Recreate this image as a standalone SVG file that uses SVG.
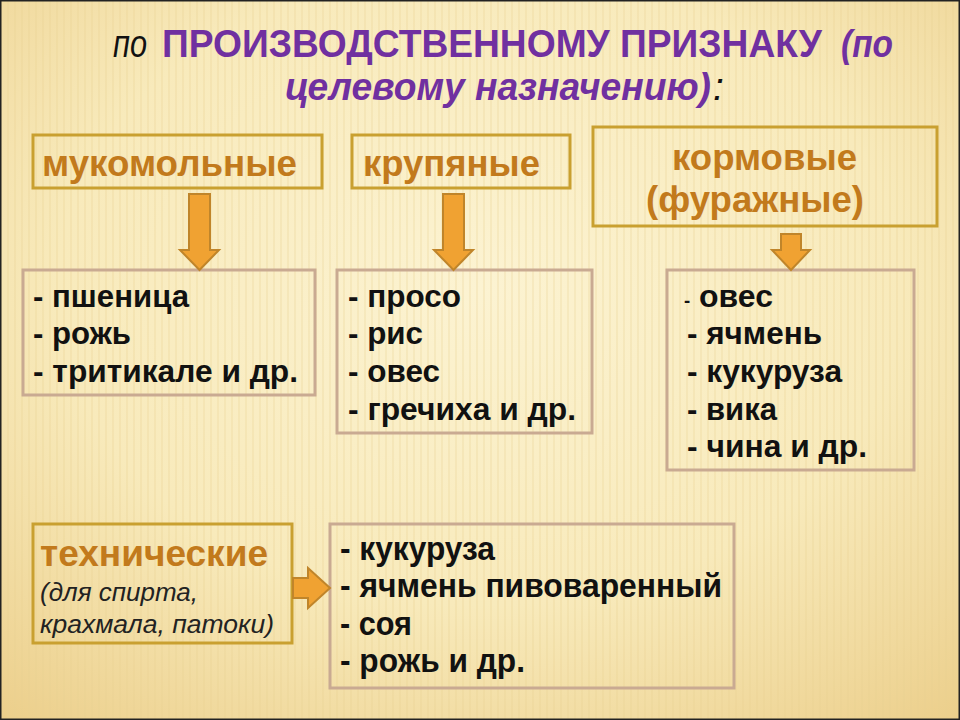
<svg xmlns="http://www.w3.org/2000/svg" width="960" height="720" viewBox="0 0 960 720">
<defs>
<radialGradient id="bg" cx="0.5" cy="0.4" r="0.8">
<stop offset="0" stop-color="#fcf3d2"/>
<stop offset="0.55" stop-color="#f8eabb"/>
<stop offset="1" stop-color="#ebcd88"/>
</radialGradient>
<pattern id="stripes" width="7" height="720" patternUnits="userSpaceOnUse">
<rect x="0" y="0" width="2" height="720" fill="#e6cf8e" opacity="0.25"/>
</pattern>
<style>
.cat{fill:none;stroke:#c9a030;stroke-width:3}
.lst{fill:none;stroke:#c9aa92;stroke-width:3}
.ct{font-family:"Liberation Sans",Arial,sans-serif;font-weight:bold;fill:#c27a1c;font-size:36px}
.li{font-family:"Liberation Sans",Arial,sans-serif;font-weight:bold;fill:#111;font-size:31px}
.ln{font-family:"Liberation Sans",Arial,sans-serif;font-weight:bold;fill:#111;font-size:33px}
.it{font-family:"Liberation Sans",Arial,sans-serif;font-style:italic;fill:#222;font-size:26px}
.arr{fill:#f0a232;stroke:#c0852a;stroke-width:2;stroke-linejoin:miter}
.ttl{font-family:"Liberation Sans",Arial,sans-serif;font-size:39px}
</style>
</defs>
<rect width="960" height="720" fill="url(#bg)"/>
<rect width="960" height="720" fill="url(#stripes)"/>
<rect x="0.5" y="0.5" width="959" height="719" fill="none" stroke="#222" stroke-width="2"/>

<g id="title">
<text class="ttl" y="57"><tspan x="113" font-style="italic" fill="#111" textLength="34" lengthAdjust="spacingAndGlyphs">по</tspan><tspan x="162" font-weight="bold" fill="#7030a0" textLength="660" lengthAdjust="spacingAndGlyphs">ПРОИЗВОДСТВЕННОМУ ПРИЗНАКУ</tspan><tspan x="841" font-weight="bold" font-style="italic" fill="#7030a0" textLength="52" lengthAdjust="spacingAndGlyphs">(по</tspan></text>
<text class="ttl" y="100"><tspan x="285" font-weight="bold" font-style="italic" fill="#7030a0" textLength="426" lengthAdjust="spacingAndGlyphs">целевому назначению)</tspan><tspan x="713" font-style="italic" fill="#111">:</tspan></text>
</g>

<g id="flour">
<rect class="cat" x="33" y="135" width="289" height="53"/>
<text class="ct" x="42" y="176" textLength="255" lengthAdjust="spacingAndGlyphs">мукомольные</text>
</g>
<g id="groats">
<rect class="cat" x="352" y="135" width="218" height="53"/>
<text class="ct" x="363" y="176" textLength="177" lengthAdjust="spacingAndGlyphs">крупяные</text>
</g>
<g id="feed">
<rect class="cat" x="593" y="127" width="344" height="99"/>
<text class="ct" x="672" y="170" textLength="185" lengthAdjust="spacingAndGlyphs">кормовые</text>
<text class="ct" x="646" y="212" textLength="218" lengthAdjust="spacingAndGlyphs">(фуражные)</text>
</g>
<g id="technical">
<rect class="cat" x="33" y="524" width="259" height="119"/>
<text class="ct" x="40" y="566" font-size="36" textLength="228" lengthAdjust="spacingAndGlyphs">технические</text>
<text class="it" x="40" y="601" textLength="158" lengthAdjust="spacingAndGlyphs">(для спирта,</text>
<text class="it" x="40" y="633" textLength="234" lengthAdjust="spacingAndGlyphs">крахмала, патоки)</text>
</g>

<g id="flour-list">
<rect class="lst" x="23" y="270" width="292" height="125"/>
<text class="li" x="33" y="307" textLength="156" lengthAdjust="spacingAndGlyphs">- пшеница</text>
<text class="li" x="33" y="344" textLength="98" lengthAdjust="spacingAndGlyphs">- рожь</text>
<text class="li" x="33" y="382" textLength="265" lengthAdjust="spacingAndGlyphs">- тритикале и др.</text>
</g>
<g id="groats-list">
<rect class="lst" x="337" y="270" width="255" height="163"/>
<text class="li" x="348" y="307" textLength="113" lengthAdjust="spacingAndGlyphs">- просо</text>
<text class="li" x="348" y="344" textLength="75" lengthAdjust="spacingAndGlyphs">- рис</text>
<text class="li" x="348" y="382" textLength="92" lengthAdjust="spacingAndGlyphs">- овес</text>
<text class="li" x="348" y="420" textLength="228" lengthAdjust="spacingAndGlyphs">- гречиха и др.</text>
</g>
<g id="feed-list">
<rect class="lst" x="667" y="270" width="247" height="200"/>
<text class="li" x="684" y="307" textLength="89" lengthAdjust="spacingAndGlyphs"><tspan font-size="18">-</tspan> овес</text>
<text class="li" x="687" y="344" textLength="135" lengthAdjust="spacingAndGlyphs">- ячмень</text>
<text class="li" x="687" y="382" textLength="155" lengthAdjust="spacingAndGlyphs">- кукуруза</text>
<text class="li" x="687" y="420" textLength="90" lengthAdjust="spacingAndGlyphs">- вика</text>
<text class="li" x="687" y="457" textLength="180" lengthAdjust="spacingAndGlyphs">- чина и др.</text>
</g>
<g id="technical-list">
<rect class="lst" x="330" y="524" width="404" height="164"/>
<text class="ln" x="340" y="560" textLength="155" lengthAdjust="spacingAndGlyphs">- кукуруза</text>
<text class="ln" x="340" y="597" textLength="382" lengthAdjust="spacingAndGlyphs">- ячмень пивоваренный</text>
<text class="ln" x="340" y="635" textLength="72" lengthAdjust="spacingAndGlyphs">- соя</text>
<text class="ln" x="340" y="672" textLength="185" lengthAdjust="spacingAndGlyphs">- рожь и др.</text>
</g>

<g id="connectors">
<path class="arr" d="M189,194 H210 V250 H219 L199.5,270 L180,250 H189 Z"/>
<path class="arr" d="M443,194 H464 V250 H473 L453.5,270 L434,250 H443 Z"/>
<path class="arr" d="M781,234 H801 V250 H810 L791,270 L772,250 H781 Z"/>
<path class="arr" d="M293,578 H308 V568 L330,588 L308,608 V598 H293 Z"/>
</g>
</svg>
